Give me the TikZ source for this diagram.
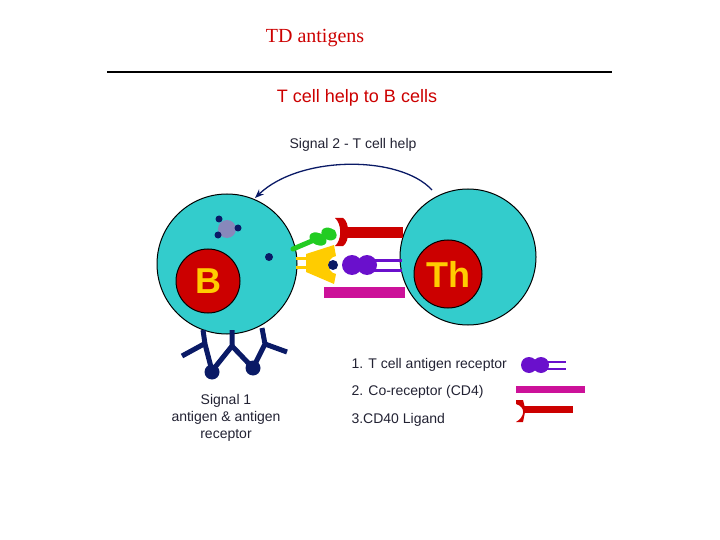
\documentclass[tikz,border=0pt]{standalone}
\usepackage{fontspec}
\setmainfont{Liberation Serif}
\setsansfont{Liberation Sans}
\usetikzlibrary{arrows.meta}
\definecolor{cellc}{HTML}{33CCCC}
\definecolor{nucl}{HTML}{CC0000}
\definecolor{yel}{HTML}{FFCC00}
\definecolor{navy}{HTML}{0A1A66}
\definecolor{purp}{HTML}{6A10CC}
\definecolor{mag}{HTML}{CC1199}
\definecolor{grn}{HTML}{22CC22}
\definecolor{txt}{HTML}{222233}
\definecolor{blob}{HTML}{8888BB}
\tikzset{
 cell/.style={circle,draw=black,line width=1pt,fill=cellc},
 nuc/.style={circle,draw=black,line width=1pt,fill=nucl,text=yel,font=\sffamily\bfseries\fontsize{36}{36}\selectfont},
 lab/.style={font=\sffamily\fontsize{14}{17}\selectfont,text=txt},
 dot/.style={circle,fill=navy,inner sep=0pt,minimum size=7pt},
 ab/.style={navy,line width=5pt,line join=round},
}
\begin{document}
\begin{tikzpicture}[x=1pt,y=-1pt]
\useasboundingbox (0,0) rectangle (720,540);
\node (title) at (315,38) {\fontsize{20}{20}\selectfont\color{nucl}TD antigens};
\coordinate (l1) at (107,72); \coordinate (l2) at (612,72);
\draw[line width=1.5pt] (l1) -- (l2);
\node (sub) at (357,98) {\sffamily\fontsize{18}{18}\selectfont\color{nucl}T cell help to B cells};
\node[lab] (sig2) at (353,145) {Signal 2 - T cell help};
% cells
\node[cell,minimum size=140pt] (B) at (227,264) {};
\node[cell,minimum size=136pt] (T) at (468,257) {};
\node[nuc,minimum size=64pt] (Bn) at (208,281) {B};
\node[nuc,minimum size=68pt] (Tn) at (448,274) {Th};
\coordinate (a1) at (432,190); \coordinate (a2) at (255,198);
\draw[navy,line width=1.3pt,-{Stealth[length=9pt,width=7pt]}] (a1) .. controls (400,155) and (300,155) .. (a2);
% blob and dots
\node[circle,fill=blob,minimum size=18pt,inner sep=0pt] (gb) at (227,229) {};
\node[dot] (d1) at (219,219) {};
\node[dot] (d2) at (238,228) {};
\node[dot] (d3) at (218,235) {};
\node[dot,minimum size=8pt] (d4) at (269,257) {};
% green
\draw[grn,line width=5pt,line cap=round] (293,249) -- (333,232);
\fill[grn,rotate around={-25:(318,239)}] (318,239) ellipse (9 and 6);
\fill[grn,rotate around={-25:(329,234)}] (329,234) ellipse (8 and 6);
% red CD40L
\fill[nucl] (345,227) rectangle (403,238);
\fill[nucl] (335,218) -- (343,218) .. controls (350,222) and (350,242) .. (343,246) -- (335,246) .. controls (342,240) and (342,224) .. (335,218) -- cycle;
% yellow
\draw[yel,line width=3pt] (296,258) -- (312,258) (296,267) -- (312,267);
\fill[yel] (306,254) -- (334,245) -- (336,256) .. controls (326,258) and (326,272) .. (336,274) -- (334,284) -- (306,272) -- cycle;
\node[dot,minimum size=10pt] (d5) at (333,265) {};
% purple TCR
\draw[purp,line width=3pt] (370,260) -- (402,260) (370,270) -- (402,270);
\fill[purp] (352,265) circle (10); \fill[purp] (367,265) circle (10);
% magenta
\fill[mag] (324,287) rectangle (405,298);
% antibodies
\draw[ab] (182,356) -- (204,344);
\draw[ab] (203,330) -- (205,344) -- (212,371) -- (232,346) -- (232,330);
\draw[ab] (232,346) -- (253,368) -- (265,344) -- (262,328);
\draw[ab] (265,344) -- (287,352);
\node[dot,minimum size=15pt] (b1) at (212,372) {};
\node[dot,minimum size=15pt] (b2) at (253,368) {};
\node[lab,align=center] (sig1) at (226,418) {Signal 1\\antigen \& antigen\\receptor};
% legend
\node[lab,anchor=west] (k1) at (348,365) {1. T cell antigen receptor};
\node[lab,anchor=west] (k2) at (348,392) {2. Co-receptor (CD4)};
\node[lab,anchor=west] (k3) at (348,420) {3.CD40 Ligand};
\draw[purp,line width=2.5pt] (540,362) -- (566,362) (540,369) -- (566,369);
\fill[purp] (529,365) circle (8); \fill[purp] (541,365) circle (8);
\fill[mag] (516,386) rectangle (585,393);
\fill[nucl] (523,406) rectangle (573,413);
\fill[nucl] (516,400) -- (523,400) -- (525,408) -- (525,412) -- (523,422) -- (516,422) .. controls (525,417) and (526,407) .. (516,404) -- cycle;
\end{tikzpicture}
\end{document}
